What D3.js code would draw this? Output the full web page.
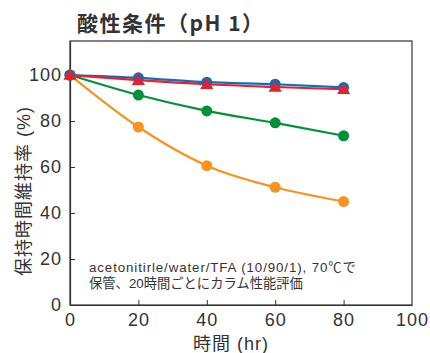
<!DOCTYPE html>
<html>
<head>
<meta charset="utf-8">
<script src="https://cdn.jsdelivr.net/npm/d3@7"></script>
<style>
  body { margin: 0; background: #fff; }
  text { font-family: "Liberation Sans", "Noto Sans CJK JP", sans-serif; fill: #333; }
</style>
</head>
<body>
<div id="vis"></div>
<script>
// data
const hours = [0, 20, 40, 60, 80];
const blueVals = [100, 98.8, 96.9, 96.0, 94.6];
const redVals = [100, 97.8, 96.0, 94.8, 93.8];
const greenVals = [100, 91.3, 84.4, 79.2, 73.6];
const orangeVals = [100, 77.4, 60.6, 51.2, 45.0];
const xTicks = [0, 20, 40, 60, 80, 100];
const yTicks = [0, 20, 40, 60, 80, 100];

const width = 430, height = 353;
const margin = { left: 70, right: 18, top: 41, bottom: 48 };

const svg = d3.select("#vis").append("svg")
  .attr("width", width)
  .attr("height", height);

const x = d3.scaleLinear().domain([0, 100]).range([margin.left, width - margin.right]);
const y = d3.scaleLinear().domain([0, 114.8]).range([height - margin.bottom, margin.top]);

// frame
svg.append("rect")
  .attr("x", x(0)).attr("y", y(114.8))
  .attr("width", x(100) - x(0)).attr("height", y(0) - y(114.8))
  .attr("fill", "none").attr("stroke", "#333").attr("stroke-width", 1.2);

// axes, ticks inward
const xAxis = svg.append("g")
  .attr("transform", `translate(0,${y(0)})`)
  .call(d3.axisBottom(x).tickValues(xTicks).tickSizeInner(-5).tickSizeOuter(0).tickPadding(8));
const yAxis = svg.append("g")
  .attr("transform", `translate(${x(0)},0)`)
  .call(d3.axisLeft(y).tickValues(yTicks).tickSizeInner(-5).tickSizeOuter(0).tickPadding(8));

[xAxis, yAxis].forEach(a => {
  a.select(".domain").attr("stroke", "#333").attr("stroke-width", 1.2);
  a.selectAll(".tick line").attr("stroke", "#333");
  a.selectAll("text").style("font-size", "18px").style("letter-spacing", "1px")
    .style("font-family", "Liberation Sans, sans-serif").attr("fill", "#333");
});
xAxis.selectAll(".tick").filter(d => d === 0 || d === 100).select("line").remove();
yAxis.selectAll(".tick").filter(d => d === 0).select("line").remove();

// title
svg.append("text")
  .attr("x", 77).attr("y", 31)
  .style("font-size", "21px").style("font-weight", "bold").style("letter-spacing", "1.5px")
  .style("font-family", "Noto Sans CJK JP, sans-serif")
  .text("酸性条件（pH 1）");

// axis labels
svg.append("text")
  .attr("transform", `translate(30,191) rotate(-90)`)
  .attr("text-anchor", "middle")
  .style("font-size", "18px").style("letter-spacing", "1px")
  .text("保持時間維持率 (%)");

svg.append("text")
  .attr("x", 231).attr("y", 350)
  .attr("text-anchor", "middle")
  .style("font-size", "18px").style("letter-spacing", "1px")
  .text("時間 (hr)");

// note
svg.append("text")
  .attr("x", 89).attr("y", 272)
  .style("font-size", "13.3px").style("letter-spacing", "0.9px")
  .text("acetonitirle/water/TFA (10/90/1), 70℃で");
svg.append("text")
  .attr("x", 89).attr("y", 288)
  .style("font-size", "13.3px")
  .text("保管、20時間ごとにカラム性能評価");

const line = d3.line()
  .x((d, i) => x(hours[i]))
  .y(d => y(d))
  .curve(d3.curveMonotoneX);

const series = [
  { vals: orangeVals, color: "#f7931e", shape: "circle" },
  { vals: greenVals, color: "#00913a", shape: "circle" },
  { vals: blueVals, color: "#0b6fbf", shape: "circle" },
  { vals: redVals, color: "#e8202a", shape: "triangle" }
];

series.forEach(s => {
  svg.append("path")
    .datum(s.vals)
    .attr("d", line)
    .attr("fill", "none")
    .attr("stroke", s.color)
    .attr("stroke-width", 2.2);
});

series.forEach(s => {
  if (s.shape === "circle") {
    svg.selectAll(null)
      .data(s.vals)
      .enter()
      .append("circle")
      .attr("cx", (d, i) => x(hours[i]))
      .attr("cy", d => y(d))
      .attr("r", 5.5)
      .attr("fill", s.color);
  } else {
    const tri = d3.symbol().type(d3.symbolTriangle).size(75);
    svg.selectAll(null)
      .data(s.vals)
      .enter()
      .append("path")
      .attr("d", tri)
      .attr("transform", (d, i) => `translate(${x(hours[i])},${y(d) + 1})`)
      .attr("fill", s.color);
  }
});
</script>
</body>
</html>
